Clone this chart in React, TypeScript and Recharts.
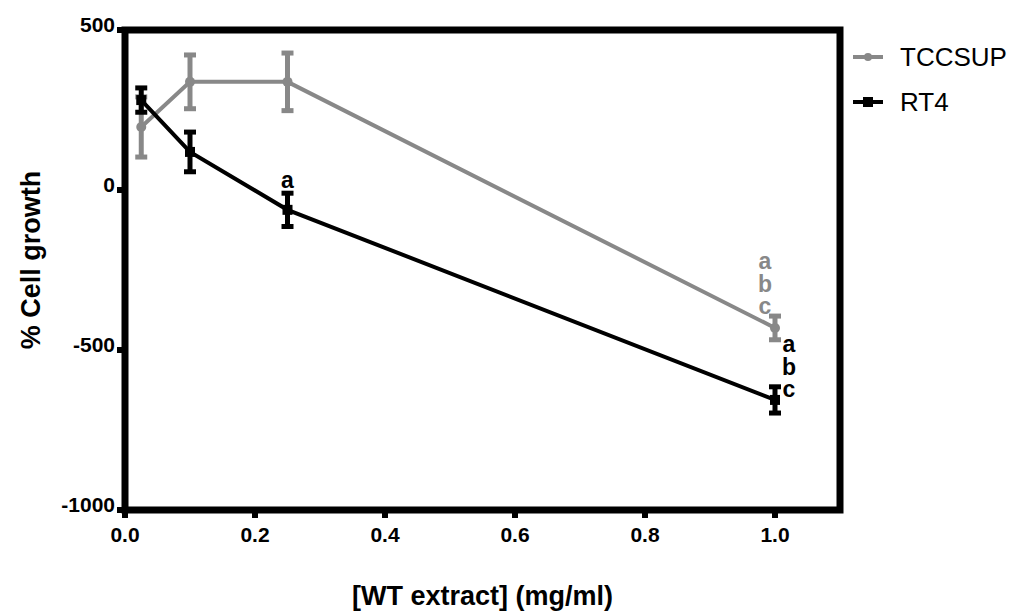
import React from "react";
import {
  LineChart,
  Line,
  XAxis,
  YAxis,
  ErrorBar,
  ReferenceArea,
  LabelList,
} from "recharts";

// ---- data ----
const concentrations = [0.025, 0.1, 0.25, 1.0];
const tccsupMean = [197, 338, 338, -431];
const tccsupErr = [94, 84, 90, 37];
const tccsupLetters = ["", "", "", "abc"];
const rt4Mean = [281, 119, -62, -656];
const rt4Err = [38, 62, 52, 41];
const rt4Letters = ["", "", "a", "abc"];
const xTicks = [0, 0.2, 0.4, 0.6, 0.8, 1.0];
const yTicks = [-1000, -500, 0, 500];
const seriesNames = ["TCCSUP", "RT4"];

const tccsupData = concentrations.map((x, i) => ({
  x,
  y: tccsupMean[i],
  err: tccsupErr[i],
  letters: tccsupLetters[i],
}));
const rt4Data = concentrations.map((x, i) => ({
  x,
  y: rt4Mean[i],
  err: rt4Err[i],
  letters: rt4Letters[i],
}));

const FONT = "'Liberation Sans', Arial, Helvetica, sans-serif";
const GRAY = "#888888";
const BLACK = "#000000";

const YTick = (props: any) => {
  const { x, y, payload } = props;
  return (
    <text
      x={x - 2}
      y={y + 2}
      textAnchor="end"
      fontFamily={FONT}
      fontWeight="bold"
      fontSize={21}
      fill="#000"
    >
      {String(payload.value)}
    </text>
  );
};

const XTick = (props: any) => {
  const { x, y, payload } = props;
  return (
    <text
      x={x}
      y={y + 24}
      textAnchor="middle"
      fontFamily={FONT}
      fontWeight="bold"
      fontSize={21}
      fill="#000"
    >
      {Number(payload.value).toFixed(1)}
    </text>
  );
};

const makeLetterRenderer =
  (color: string, mode: "tccsup" | "rt4") => (props: any) => {
    const { x, y, value, index } = props;
    if (!value) return null;
    const letters = String(value).split("");
    let ox = 0;
    let oy: number[] = [];
    if (letters.length === 1) {
      ox = 0;
      oy = [-29];
    } else if (mode === "tccsup") {
      ox = -10;
      oy = [-66, -43, -21];
    } else {
      ox = 14;
      oy = [-55, -32, -10];
    }
    return (
      <g key={`lab-${mode}-${index}`}>
        {letters.map((l, k) => (
          <text
            key={k}
            x={x + ox}
            y={y + oy[k] + 7}
            textAnchor="middle"
            fontFamily={FONT}
            fontWeight="bold"
            fontSize={23}
            fill={color}
          >
            {l}
          </text>
        ))}
      </g>
    );
  };

const SquareDot = (props: any) => {
  const { cx, cy, index } = props;
  if (cx == null || cy == null) return null;
  return (
    <rect key={`sq-${index}`} x={cx - 5} y={cy - 5} width={10} height={10} fill={BLACK} />
  );
};

const CircleDot = (props: any) => {
  const { cx, cy, index } = props;
  if (cx == null || cy == null) return null;
  return <circle key={`c-${index}`} cx={cx} cy={cy} r={5} fill={GRAY} />;
};

const LegendBox = () => (
  <svg width={190} height={100} style={{ display: "block" }}>
    <line x1={0} y1={19} x2={30} y2={19} stroke={GRAY} strokeWidth={4} />
    <circle cx={15} cy={19} r={4} fill={GRAY} />
    <text x={47} y={28} fontFamily={FONT} fontSize={26} fill="#000">
      {seriesNames[0]}
    </text>
    <line x1={0} y1={64} x2={30} y2={64} stroke={BLACK} strokeWidth={4} />
    <rect x={10} y={59} width={10} height={10} fill={BLACK} />
    <text x={47} y={73} fontFamily={FONT} fontSize={26} fill="#000">
      {seriesNames[1]}
    </text>
  </svg>
);

export default function App() {
  return (
    <div style={{ width: 1019, height: 603, position: "relative" }}>
      <LineChart
        width={1019}
        height={603}
        margin={{ top: 22, right: 187, bottom: 0, left: 0 }}
      >
        <XAxis
          type="number"
          dataKey="x"
          domain={[0, 1.1]}
          ticks={xTicks}
          allowDuplicatedCategory={false}
          axisLine={false}
          tickLine={{ stroke: "#000", strokeWidth: 6 }}
          tickSize={8}
          tickMargin={0}
          tick={<XTick />}
          height={101}
          interval={0}
          label={(p: any) => {
            const vb = p.viewBox || {};
            return (
              <text
                x={vb.x + vb.width / 2}
                y={vb.y + 95}
                textAnchor="middle"
                fontFamily={FONT}
                fontWeight="bold"
                fontSize={27}
                fill="#000"
              >
                [WT extract] (mg/ml)
              </text>
            );
          }}
        />
        <YAxis
          type="number"
          domain={[-1000, 500]}
          ticks={yTicks}
          axisLine={false}
          tickLine={{ stroke: "#000", strokeWidth: 6 }}
          tickSize={8}
          tickMargin={0}
          tick={<YTick />}
          width={117}
          interval={0}
          label={() => {
            const cx = 23;
            const cy = 252;
            return (
              <text
                x={cx}
                y={cy}
                transform={`rotate(-90 ${cx} ${cy})`}
                textAnchor="middle"
                dominantBaseline="central"
                fontFamily={FONT}
                fontWeight="bold"
                fontSize={27}
                fill="#000"
              >
                % Cell growth
              </text>
            );
          }}
        />
        <ReferenceArea
          x1={0}
          x2={1.1}
          y1={-1000}
          y2={500}
          fill="none"
          fillOpacity={0}
          stroke="#000"
          strokeWidth={7}
          ifOverflow="visible"
        />
        <Line
          data={tccsupData}
          dataKey="y"
          name={seriesNames[0]}
          stroke={GRAY}
          strokeWidth={4}
          dot={<CircleDot />}
          isAnimationActive={false}
        >
          <ErrorBar dataKey="err" width={6} strokeWidth={5} stroke={GRAY} direction="y" />
          <LabelList dataKey="letters" content={makeLetterRenderer(GRAY, "tccsup")} />
        </Line>
        <Line
          data={rt4Data}
          dataKey="y"
          name={seriesNames[1]}
          stroke={BLACK}
          strokeWidth={4}
          dot={<SquareDot />}
          isAnimationActive={false}
        >
          <ErrorBar dataKey="err" width={6} strokeWidth={5} stroke={BLACK} direction="y" />
          <LabelList dataKey="letters" content={makeLetterRenderer(BLACK, "rt4")} />
        </Line>
      </LineChart>
      <div style={{ position: "absolute", left: 845, top: 30 }}>
        <LegendBox />
      </div>
    </div>
  );
}
